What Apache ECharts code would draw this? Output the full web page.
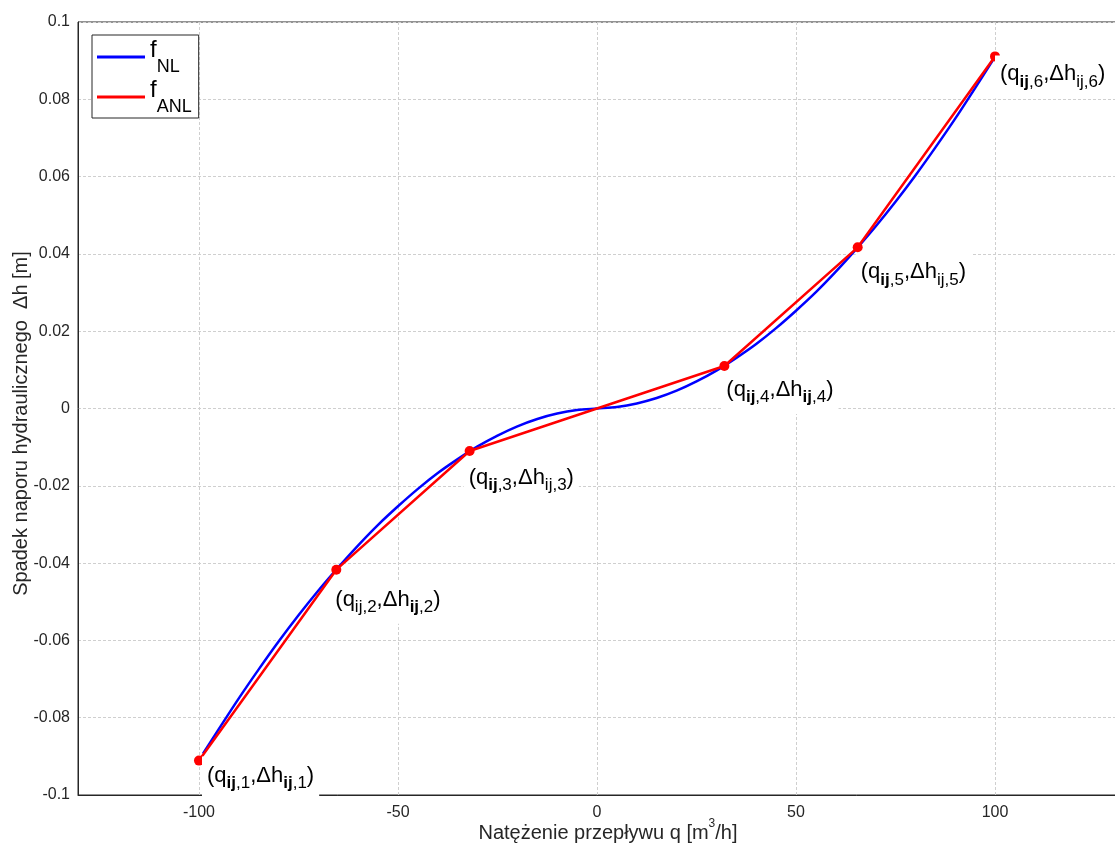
<!DOCTYPE html>
<html><head><meta charset="utf-8">
<script src="https://cdn.jsdelivr.net/npm/echarts@6/dist/echarts.min.js"></script>
<style>html,body{margin:0;padding:0;background:#fff}#c{width:1115px;height:850px}</style>
</head><body><div id="c"></div>
<script>
// ---- data ----
const xTickValues = [-100, -50, 0, 50, 100];
const curveQ = [-99, -95, -90, -85, -80, -75, -70, -65, -60, -55, -50, -45, -40, -35, -30, -25, -20, -15, -10, -5, 0,
                5, 10, 15, 20, 25, 30, 35, 40, 45, 50, 55, 60, 65, 70, 75, 80, 85, 90, 95, 100];
const curveDh = [-0.0893, -0.0829, -0.0750, -0.0675, -0.0603, -0.0535, -0.0471, -0.0411, -0.0354, -0.0301, -0.0253,
                 -0.0208, -0.0167, -0.0131, -0.0098, -0.0070, -0.0046, -0.0027, -0.0013, -0.0004, 0,
                 0.0004, 0.0013, 0.0027, 0.0046, 0.0070, 0.0098, 0.0131, 0.0167, 0.0208, 0.0253,
                 0.0301, 0.0354, 0.0411, 0.0471, 0.0535, 0.0603, 0.0675, 0.0750, 0.0829, 0.0910];
const breakQ = [-100, -65.5, -32, 0, 32, 65.5, 100];
const breakDh = [-0.0911, -0.0417, -0.0110, 0, 0.0110, 0.0417, 0.0911];
const markerQ = [-100, -65.5, -32, 32, 65.5, 100];
const markerDh = [-0.0911, -0.0417, -0.0110, 0.0110, 0.0417, 0.0911];
const markerIndex = ['1', '2', '3', '4', '5', '6'];
const qSubBold = [true, false, true, true, true, true];
const hSubBold = [true, true, false, true, false, false];
const seriesNames = ['f_NL', 'f_ANL'];

// ---- layout (label placement relative to its point: text start dx, main-text centre dy) ----
const labelPlace = [[8, 15], [-1, 30], [-1, 27], [2, 24], [3, 25], [5, 18]];

const TXT = '#262626';
const FONT = '"Liberation Sans", Arial, sans-serif';

const labelRich = {
  m:  { fontSize: 22, fontFamily: FONT, color: '#000', verticalAlign: 'top' },
  s:  { fontSize: 17, fontFamily: FONT, color: '#000', verticalAlign: 'top', padding: [10, 0, 0, 0] },
  sb: { fontSize: 17, fontFamily: FONT, color: '#000', fontWeight: 'bold', verticalAlign: 'top', padding: [10, 0, 0, 0] }
};

const markerData = markerQ.map((q, i) => {
  const k = markerIndex[i];
  const qs = qSubBold[i] ? '{sb|ij}{s|,' + k + '}' : '{s|ij,' + k + '}';
  const hs = hSubBold[i] ? '{sb|ij}{s|,' + k + '}' : '{s|ij,' + k + '}';
  return {
    value: [q, markerDh[i]],
    label: {
      position: [labelPlace[i][0], labelPlace[i][1] - 14],
      formatter: '{m|(q}' + qs + '{m|,Δh}' + hs + '{m|)}'
    }
  };
});

const chart = echarts.init(document.getElementById('c'), null, { renderer: 'canvas' });
chart.setOption({
  animation: false,
  backgroundColor: '#fff',
  grid: { left: 78, right: -1, top: 22, bottom: 55, show: true, borderColor: TXT, borderWidth: 1,
          backgroundColor: 'transparent', containLabel: false, outerBoundsMode: 'none' },
  legend: {
    orient: 'vertical', left: 92, top: 35,
    backgroundColor: '#fff', borderColor: TXT, borderWidth: 1,
    padding: [3, 7, 2, 5], itemGap: 2, itemWidth: 48, itemHeight: 3,
    data: seriesNames.map(n => ({ name: n, icon: 'rect' })),
    formatter: function (name) {
      return name === 'f_NL' ? '{f|f}{s|NL}' : '{f|f}{s|ANL}';
    },
    textStyle: {
      rich: {
        f: { fontSize: 24, fontFamily: FONT, color: '#000', verticalAlign: 'top' },
        s: { fontSize: 18, fontFamily: FONT, color: '#000', verticalAlign: 'top', padding: [20, 0, 0, 0] }
      }
    }
  },
  xAxis: {
    type: 'value', min: -130.4, max: 130.4,
    name: '{t|Natężenie przepływu q [m}{sup|3}{t|/h]}',
    nameLocation: 'middle', nameGap: 23, nameMoveOverlap: false,
    nameTextStyle: {
      padding: [0, 0, 0, 22],
      rich: {
        t: { fontSize: 20, fontFamily: FONT, color: TXT, verticalAlign: 'top', padding: [5, 0, 0, 0] },
        sup: { fontSize: 12, fontFamily: FONT, color: TXT, verticalAlign: 'top' }
      }
    },
    axisLine: { show: true, onZero: false, lineStyle: { color: TXT, width: 1 } },
    axisTick: { show: false, customValues: xTickValues },
    axisLabel: { customValues: xTickValues, fontSize: 16, fontFamily: FONT, color: TXT, margin: 10 },
    splitLine: { show: true, lineStyle: { color: '#cfcfcf', type: [3, 2], width: 1 } }
  },
  yAxis: {
    type: 'value', min: -0.1, max: 0.1, interval: 0.02,
    name: 'Spadek naporu hydraulicznego  Δh [m]',
    nameLocation: 'middle', nameGap: 47, nameMoveOverlap: false,
    nameTextStyle: { fontSize: 20, fontFamily: FONT, color: TXT, padding: [0, 30, 0, 0] },
    axisLine: { show: true, onZero: false, lineStyle: { color: TXT, width: 1 } },
    axisTick: { show: false },
    axisLabel: { fontSize: 16, fontFamily: FONT, color: TXT, margin: 8 },
    splitLine: { show: true, lineStyle: { color: '#cfcfcf', type: [3, 2], width: 1 } }
  },
  series: [
    {
      name: 'f_NL', type: 'line', symbol: 'none', smooth: 0.3,
      data: curveQ.map((q, i) => [q, curveDh[i]]),
      lineStyle: { color: '#0000ff', width: 2.5 }, itemStyle: { color: '#0000ff' }, z: 3
    },
    {
      name: 'f_ANL', type: 'line', symbol: 'none',
      data: breakQ.map((q, i) => [q, breakDh[i]]),
      lineStyle: { color: '#ff0000', width: 2.5 }, itemStyle: { color: '#ff0000' }, z: 4
    },
    {
      name: 'pts', type: 'scatter', symbol: 'circle', symbolSize: 10,
      itemStyle: { color: '#ff0000', opacity: 1 }, z: 5,
      label: {
        show: true, align: 'left', verticalAlign: 'top', color: '#000',
        backgroundColor: '#fff', padding: [8, 5, 8, 5],
        rich: labelRich
      },
      data: markerData
    }
  ]
});
</script>
</body></html>
